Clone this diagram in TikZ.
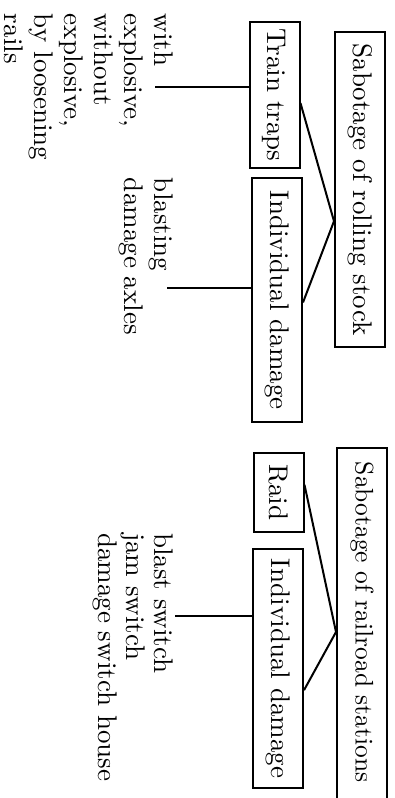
\documentclass[tikz,border=0pt]{standalone}
\usetikzlibrary{calc}
\begin{document}
\begin{tikzpicture}[x=0.4pt,y=-0.4pt,line width=0.8pt,font=\fontsize{10.8}{12}\selectfont,
  box/.style={draw,rotate=-90,inner sep=0pt,minimum height=20pt},
  note/.style={rotate=-90,align=left,anchor=north west,inner sep=0pt}]
  \useasboundingbox (0,0) rectangle (394,798);
  \node[box,minimum width=126pt] (RS) at (360,189.5) {Sabotage of rolling stock};
  \node[box,minimum width=58.4pt] (TT) at (274.5,95) {Train traps};
  \node[box,minimum width=97.6pt] (ID1) at (277,300) {Individual damage};
  \node[box,text width=136pt,align=left,inner xsep=5.4pt,font=\fontsize{10.2}{12}\selectfont] (RR) at (362,632) {\mbox{Sabotage of railroad stations}};
  \node[box,minimum width=31.6pt] (RD) at (278.5,492.5) {Raid};
  \node[box,minimum width=95.6pt] (ID2) at (278,668.5) {Individual damage};
  \coordinate (A) at ($(RS.south west)!.6!(RS.south east)$);
  \coordinate (B) at ($(RR.south west)!.5!(RR.south east)$);
  \draw ($(TT.north west)!.555!(TT.north east)$) -- (A) -- ($(ID1.north west)!.51!(ID1.north east)$);
  \draw ($(RD.north west)!.405!(RD.north east)$) -- (B) -- ($(ID2.north west)!.59!(ID2.north east)$);
  \node[note] (with) at (174,13) {with\\explosive,\\without\\explosive,\\by loosening\\rails};
  \node[note] (axles) at (174,177) {blasting\\damage axles};
  \node[note,font=\fontsize{10.8}{11.2}\selectfont] (switch) at (174,532) {blast switch\\jam switch\\damage switch house};
  \coordinate (W) at (155,87); \coordinate (X) at (167,288); \coordinate (Y) at (175,616);
  \draw (W) -- (W -| TT.south);
  \draw (X) -- (X -| ID1.south);
  \draw[line width=0.6pt] (Y) -- (Y -| ID2.south);
\end{tikzpicture}
\end{document}
